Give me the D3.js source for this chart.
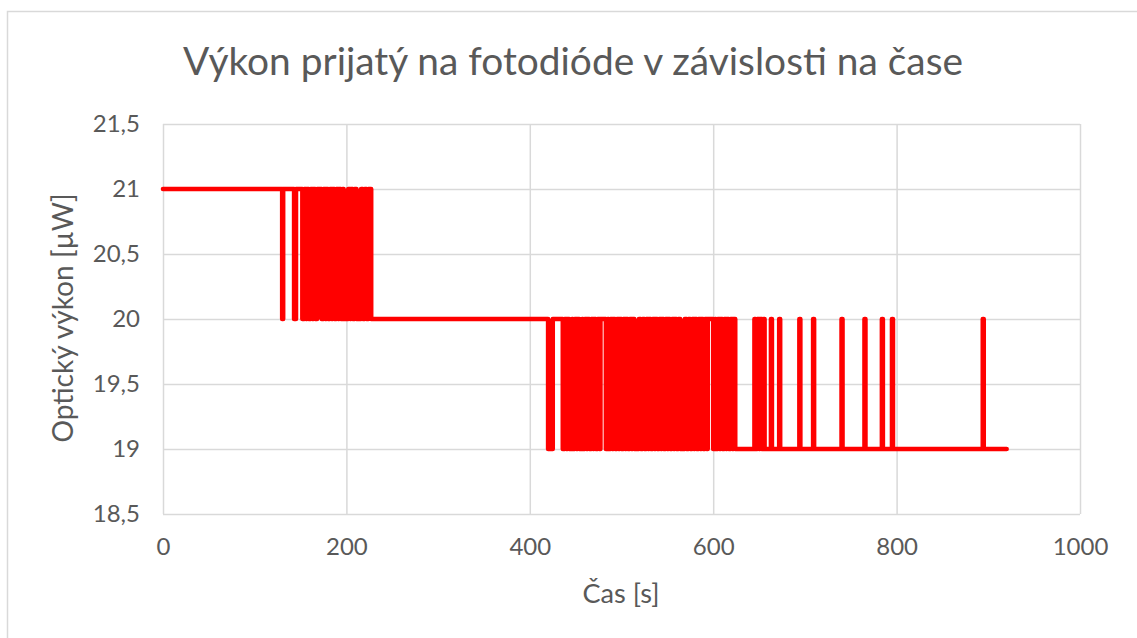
<!DOCTYPE html>
<html>
<head>
<meta charset="utf-8">
<script src="https://cdn.jsdelivr.net/npm/d3@7"></script>
<style>
  body { margin: 0; background: #ffffff; }
  svg { display: block; }
  text { font-family: Lato, "Open Sans", sans-serif; fill: #595959; }
</style>
</head>
<body>
<svg id="chart" width="1137" height="638"></svg>
<script>
// ---- chart text ----
const titleText = "Výkon prijatý na fotodióde v závislosti na čase";
const xAxisTitle = "Čas [s]";
const yAxisTitle = "Optický výkon [µW]";

// ---- axis ticks ----
const xTicks = [0, 200, 400, 600, 800, 1000];
const yTicks = [18.5, 19, 19.5, 20, 20.5, 21, 21.5];

// ---- measured series: time [s] at which the received power steps to a new level [µW] ----
const stepTime = [
  0, 130, 131, 143, 145,
  152, 154, 156, 157, 159, 161, 163, 164, 166, 168, 173, 175, 177, 178, 180, 182, 184, 185, 187, 189,
  191, 192, 194, 196, 197, 202, 204, 205, 207, 209, 211, 216, 218, 220, 222, 224, 227,
  420, 425,
  436, 438, 440, 441, 443, 446, 447, 449, 451, 452, 454, 457, 458, 460, 462, 463, 465, 467, 469, 470,
  472, 474, 476, 477, 483, 485, 486, 488, 490, 491, 493, 495, 497, 498, 500, 502, 504, 505, 507, 509,
  511, 512, 514, 519, 521, 523, 525, 527, 529, 530, 532, 534, 536, 537, 539, 541, 543, 544, 546, 548,
  550, 551, 553, 555, 557, 558, 560, 562, 564, 569, 571, 573, 575, 577, 579, 580, 582, 584, 586, 587,
  589, 591, 593, 594, 600, 602, 603, 605, 607, 608, 610, 612, 614, 615, 617, 619, 621, 622, 624,
  645, 646, 648, 650, 651, 653, 655, 656, 663, 664, 672, 673, 694, 695, 709, 710, 740, 741, 765, 766,
  784, 785, 795, 796, 894, 895, 920
];
const stepPower = [
  21, 20, 21, 20, 21,
  20, 21, 20, 21, 20, 21, 20, 21, 20, 21, 20, 21, 20, 21, 20, 21, 20, 21, 20, 21,
  20, 21, 20, 21, 20, 21, 20, 21, 20, 21, 20, 21, 20, 21, 20, 21, 20,
  19, 20,
  19, 20, 19, 20, 19, 20, 19, 20, 19, 20, 19, 20, 19, 20, 19, 20, 19, 20, 19, 20,
  19, 20, 19, 20, 19, 20, 19, 20, 19, 20, 19, 20, 19, 20, 19, 20, 19, 20, 19, 20,
  19, 20, 19, 20, 19, 20, 19, 20, 19, 20, 19, 20, 19, 20, 19, 20, 19, 20, 19, 20,
  19, 20, 19, 20, 19, 20, 19, 20, 19, 20, 19, 20, 19, 20, 19, 20, 19, 20, 19, 20,
  19, 20, 19, 20, 19, 20, 19, 20, 19, 20, 19, 20, 19, 20, 19, 20, 19, 20, 19,
  20, 19, 20, 19, 20, 19, 20, 19, 20, 19, 20, 19, 20, 19, 20, 19, 20, 19, 20, 19,
  20, 19, 20, 19, 20, 19, 19
];

const series = stepTime.map((t, i) => ({ t: t, p: stepPower[i] }));

// ---- layout ----
const svg = d3.select("#chart");
const W = 1137, H = 638;
const plot = { left: 163, right: 1080, top: 124, bottom: 514 };
const gridColor = "#d9d9d9";

const x = d3.scaleLinear().domain([0, 1000]).range([plot.left, plot.right]);
const y = d3.scaleLinear().domain([18.5, 21.5]).range([plot.bottom, plot.top]);

// chart frame
svg.append("rect")
  .attr("x", 7.5).attr("y", 11.5)
  .attr("width", W + 10).attr("height", H + 10)
  .attr("fill", "#ffffff")
  .attr("stroke", gridColor).attr("stroke-width", 1.5);

// gridlines
const yGrid = d3.axisLeft(y).tickValues(yTicks)
  .tickSize(-(plot.right - plot.left)).tickFormat("");
svg.append("g").attr("transform", `translate(${plot.left},0)`).call(yGrid)
  .call(g => g.select(".domain").remove())
  .call(g => g.selectAll("line").attr("stroke", gridColor).attr("stroke-width", 1.5));

const xGrid = d3.axisBottom(x).tickValues(xTicks)
  .tickSize(-(plot.bottom - plot.top)).tickFormat("");
svg.append("g").attr("transform", `translate(0,${plot.bottom})`).call(xGrid)
  .call(g => g.select(".domain").remove())
  .call(g => g.selectAll("line").attr("stroke", gridColor).attr("stroke-width", 1.5));

// tick labels
const fmtY = d => d3.format(".1~f")(d).replace(".", ",");
const yAxis = d3.axisLeft(y).tickValues(yTicks).tickSize(0).tickPadding(23).tickFormat(fmtY);
svg.append("g").attr("transform", `translate(${plot.left},0)`).call(yAxis)
  .call(g => g.select(".domain").remove())
  .call(g => g.selectAll("text")
    .attr("fill", "#595959").style("font-family", "Lato, sans-serif").style("font-size", "24px"));

const xAxis = d3.axisBottom(x).tickValues(xTicks).tickSize(0).tickPadding(24).tickFormat(d3.format("d"));
svg.append("g").attr("transform", `translate(0,${plot.bottom})`).call(xAxis)
  .call(g => g.select(".domain").remove())
  .call(g => g.selectAll("text")
    .attr("fill", "#595959").style("font-family", "Lato, sans-serif").style("font-size", "24px"));

// data line
const line = d3.line()
  .x(d => x(d.t))
  .y(d => y(d.p))
  .curve(d3.curveStepAfter);

svg.append("path")
  .datum(series)
  .attr("fill", "none")
  .attr("stroke", "#ff0000")
  .attr("stroke-width", 4.6)
  .attr("stroke-linejoin", "round")
  .attr("stroke-linecap", "round")
  .attr("d", line);

// titles, sized to their span
function fitText(sel, width, startSize) {
  sel.style("font-size", startSize + "px");
  const w = sel.node().getComputedTextLength();
  sel.style("font-size", (startSize * width / w).toFixed(2) + "px");
}

const title = svg.append("text")
  .attr("x", 573).attr("y", 75)
  .attr("text-anchor", "middle")
  .text(titleText);
fitText(title, 780, 34);

const xTitle = svg.append("text")
  .attr("x", 621).attr("y", 603)
  .attr("text-anchor", "middle")
  .text(xAxisTitle);
fitText(xTitle, 77, 26);

const yTitle = svg.append("text")
  .attr("transform", "translate(73,318) rotate(-90)")
  .attr("text-anchor", "middle")
  .text(yAxisTitle);
fitText(yTitle, 249, 26);
</script>
</body>
</html>
